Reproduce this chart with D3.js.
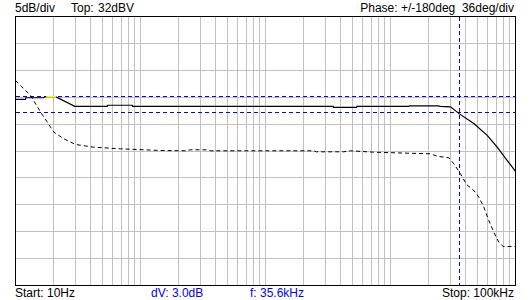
<!DOCTYPE html>
<html>
<head>
<meta charset="utf-8">
<script src="https://cdn.jsdelivr.net/npm/d3@7"></script>
<style>
  body { margin: 0; background: #ffffff; }
  text { font-family: "Liberation Sans", Arial, sans-serif; font-size: 12px; }
</style>
</head>
<body>
<div id="chart"></div>
<script>
// magnitude trace (dBV)
const magFreq = [10, 12.0, 12.1, 16.8, 17.2, 20.9, 29.8, 54.1, 54.6, 85.8, 86.5, 3480, 3500, 5350, 5400, 14000, 14200, 24000, 25100, 30200, 35600, 46400, 59400, 71400, 100000];
const magDb = [16.6, 16.6, 16.9, 16.9, 17.1, 17.1, 15.3, 15.3, 15.5, 15.5, 15.3, 15.3, 15.1, 15.1, 15.3, 15.3, 15.4, 15.4, 15.3, 15.2, 13.9, 12.1, 9.9, 7.7, 3.2];

// phase trace (deg)
const phaseFreq = [10, 13.2, 15.9, 20.3, 24.4, 30.2, 42.3, 69.2, 144.5, 229, 251, 344, 363, 2420, 2560, 4210, 4790, 7310, 13600, 20900, 23600, 29300, 32100, 36300, 40600, 46400, 50900, 55800, 61200, 67100, 73500, 79700, 100000];
const phaseDeg = [94.3, 74.3, 51.9, 25.2, 16.3, 8.7, 5.1, 2.9, 0.7, 0.3, 1.6, 1.6, 0.3, 0.3, -1.1, -1.1, 0.3, -1.6, -2.9, -3.7, -7, -9.1, -17.1, -30.5, -44.8, -52.9, -61.8, -75.2, -93, -108.7, -122, -127.8, -127.8];

// cursors
const refLevels = [17.1, 14.1];
const cursorFreq = 35600;
const markFreq = [17.6, 21.2];

const topLeft = ["5dB/div", "Top:", "32dBV"];
const topRight = "Phase: +/-180deg  36deg/div";
const bottomTexts = ["Start: 10Hz", "dV: 3.0dB", "f: 35.6kHz", "Stop: 100kHz"];

const W = 530, H = 300;
const svg = d3.select("#chart").append("svg")
    .attr("width", W)
    .attr("height", H);

const x = d3.scaleLog()
    .domain([10, 100000])
    .range([15.5, 515.5]);

const y = d3.scaleLinear()
    .domain([-18, 32])
    .range([285.5, 16.5]);

const yPhase = d3.scaleLinear()
    .domain([-180, 180])
    .range([285.5, 16.5]);

// grid
const decadeTicks = [];
[10, 100, 1000, 10000].forEach(dec => {
    for (let m = 1; m < 10; m++) decadeTicks.push(dec * m);
});
const grid = svg.append("g").attr("shape-rendering", "crispEdges");
grid.selectAll(".vgrid")
    .data(decadeTicks.slice(1))
    .join("line")
    .attr("x1", d => Math.round(x(d) - 0.5) + 0.5)
    .attr("x2", d => Math.round(x(d) - 0.5) + 0.5)
    .attr("y1", y.range()[1])
    .attr("y2", y.range()[0])
    .attr("stroke", "#c0c0c0");

grid.selectAll(".hgrid")
    .data(d3.range(-13, 32, 5))
    .join("line")
    .attr("x1", x.range()[0])
    .attr("x2", x.range()[1])
    .attr("y1", d => Math.round(y(d) - 0.5) + 0.5)
    .attr("y2", d => Math.round(y(d) - 0.5) + 0.5)
    .attr("stroke", "#c0c0c0");

// frame
svg.append("rect")
    .attr("x", x.range()[0])
    .attr("y", y.range()[1])
    .attr("width", x.range()[1] - x.range()[0])
    .attr("height", y.range()[0] - y.range()[1])
    .attr("fill", "none")
    .attr("stroke", "#000")
    .attr("shape-rendering", "crispEdges");

// reference level lines and frequency cursor
svg.selectAll(".ref")
    .data(refLevels)
    .join("line")
    .attr("x1", x.range()[0])
    .attr("x2", x.range()[1])
    .attr("y1", d => Math.round(y(d) - 0.5) + 0.5)
    .attr("y2", d => Math.round(y(d) - 0.5) + 0.5)
    .attr("stroke", "#0000ff")
    .attr("stroke-dasharray", "4,3")
    .attr("shape-rendering", "crispEdges");

svg.append("line")
    .attr("x1", Math.round(x(cursorFreq) - 0.5) + 0.5)
    .attr("x2", Math.round(x(cursorFreq) - 0.5) + 0.5)
    .attr("y1", y.range()[1])
    .attr("y2", y.range()[0])
    .attr("stroke", "#0000ff")
    .attr("stroke-dasharray", "4,3")
    .attr("shape-rendering", "crispEdges");

// traces
const magLine = d3.line()
    .x((d, i) => x(magFreq[i]))
    .y(d => y(d));

svg.append("path")
    .datum(magDb)
    .attr("fill", "none")
    .attr("stroke", "#000")
    .attr("stroke-width", 1.2)
    .attr("d", magLine);

svg.append("line")
    .attr("x1", x(markFreq[0]))
    .attr("x2", x(markFreq[1]))
    .attr("y1", y(refLevels[0]))
    .attr("y2", y(refLevels[0]))
    .attr("stroke", "#ffff00")
    .attr("stroke-width", 1.5);

const phaseLine = d3.line()
    .x((d, i) => x(phaseFreq[i]))
    .y(d => yPhase(d));

svg.append("path")
    .datum(phaseDeg)
    .attr("fill", "none")
    .attr("stroke", "#000")
    .attr("stroke-width", 1)
    .attr("stroke-dasharray", "4,3")
    .attr("d", phaseLine);

// header / footer labels
svg.append("text").attr("x", 15).attr("y", 12).text(topLeft[0]);
svg.append("text").attr("x", 71).attr("y", 12).text(topLeft[1]);
svg.append("text").attr("x", 98).attr("y", 12).text(topLeft[2]);
svg.append("text").attr("x", 514).attr("y", 12)
    .attr("text-anchor", "end")
    .style("white-space", "pre")
    .text(topRight);

svg.append("text").attr("x", 15).attr("y", 297).text(bottomTexts[0]);
svg.append("text").attr("x", 151).attr("y", 297).attr("fill", "#0000ff").text(bottomTexts[1]);
svg.append("text").attr("x", 250).attr("y", 297).attr("fill", "#0000ff").text(bottomTexts[2]);
svg.append("text").attr("x", 514).attr("y", 297)
    .attr("text-anchor", "end")
    .text(bottomTexts[3]);
</script>
</body>
</html>
